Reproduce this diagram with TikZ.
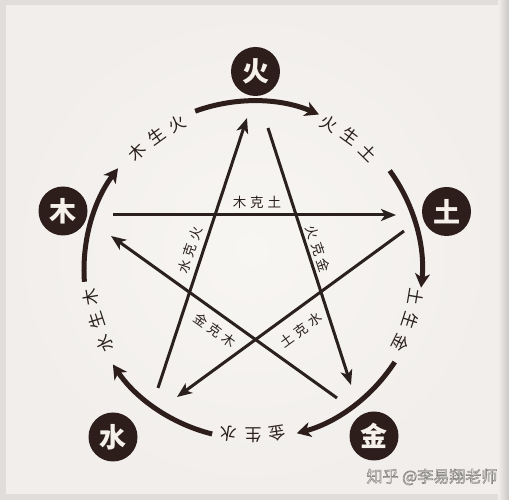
\documentclass[tikz,border=0pt]{standalone}
\usepackage{fontspec}
\newfontfamily\cjk{Noto Sans CJK SC}
\usetikzlibrary{arrows.meta}
\definecolor{dk}{HTML}{2D1E1C}
\definecolor{ln}{HTML}{2A201E}
\definecolor{cream}{HTML}{F5F0EA}
\definecolor{bgin}{HTML}{F8F6F3}
\definecolor{bgmid}{HTML}{F1EEEB}
\definecolor{bgout}{HTML}{E0DDDA}
\begin{document}
\begin{tikzpicture}[x=1pt,y=1pt,
  wx/.style={circle, fill=dk, minimum size=49pt, inner sep=0pt, text=cream,
    font=\cjk\bfseries\fontsize{27}{27}\selectfont},
  cyc/.style={line width=5pt, draw=dk, -{Stealth[length=14pt,width=15pt,inset=4pt]}},
  ke/.style={line width=3pt, draw=ln, -{Stealth[length=15pt,width=12pt,inset=4pt]}},
  kelab/.style={font=\cjk\fontsize{13.5}{13.5}\selectfont, text=ln, inner sep=0pt},
  shlab/.style={font=\cjk\fontsize{17}{17}\selectfont, text=ln, inner sep=0pt},
  wm/.style={font=\cjk\fontsize{16}{16}\selectfont, inner sep=0pt}]
\useasboundingbox (0,0) rectangle (509,500);
\fill[bgout] (0,0) rectangle (509,500);
\shade[inner color=bgin, outer color=bgmid] (6,6) rectangle (498,494);
\shade[left color=bgmid, right color=bgout!90!black] (498,0) rectangle (509,500);

\coordinate (O) at (253,230);

% element circles
\node[wx] (fire)  at (255.5,428.5) {火};
\node[wx] (wood)  at (63,289) {木};
\node[wx] (earth) at (446.5,288.5) {土};
\node[wx] (water) at (113,63) {水};
\node[wx] (metal) at (374,64) {金};

% generating cycle arcs
\draw[cyc] ([shift={(110:169)}]O) arc[start angle=110, end angle=67, radius=169];
\draw[cyc] ([shift={(36:169)}]O) arc[start angle=36, end angle=-6, radius=169];
\draw[cyc] ([shift={(327:169)}]O) arc[start angle=327, end angle=285, radius=169];
\draw[cyc] ([shift={(256:169)}]O) arc[start angle=256, end angle=214, radius=169];
\draw[cyc] ([shift={(184:169)}]O) arc[start angle=184, end angle=143, radius=169];

% generating labels along the circle
\foreach \a/\c/\d/\e in {126/木/生/火, 54/火/生/土, 342/土/生/金, 270/金/生/水, 198/水/生/木}{
  \node[shlab, rotate=\a+8.5-90] (la\a) at ([shift={(\a+8.5:165)}]O) {\c};
  \node[shlab, rotate=\a-90] (lb\a) at ([shift={(\a:165)}]O) {\d};
  \node[shlab, rotate=\a-8.5-90] (lc\a) at ([shift={(\a-8.5:165)}]O) {\e};
}

% controlling star
\coordinate (s1) at (113,285); \coordinate (e1) at (396,285);
\coordinate (s2) at (268,372); \coordinate (e2) at (351,115);
\coordinate (s3) at (158,112); \coordinate (e3) at (247,382);
\coordinate (s4) at (337,102); \coordinate (e4) at (111,264);
\coordinate (s5) at (404,269); \coordinate (e5) at (177,103);
\draw[ke] (s1) -- (e1);
\draw[ke] (s2) -- (e2);
\draw[ke] (s3) -- (e3);
\draw[ke] (s4) -- (e4);
\draw[ke] (s5) -- (e5);

\node[kelab] (k1) at (257,298) {木\hspace{4pt}克\hspace{4pt}土};
\node[kelab, rotate=-72.3] (k2) at (318,251) {火\hspace{4pt}克\hspace{4pt}金};
\node[kelab, rotate=71.8] (k3) at (190,250) {水\hspace{4pt}克\hspace{4pt}火};
\node[kelab, rotate=-35.6] (k4) at (215,170) {金\hspace{4pt}克\hspace{4pt}木};
\node[kelab, rotate=36] (k5) at (301,170) {土\hspace{4pt}克\hspace{4pt}水};

% watermark (white text, grey outline)
\node[wm, text=white] (wmark) at (432,23)
  {\special{pdf:literal direct 2 Tr 0.6 w 0.55 0.54 0.53 RG}知乎 @李易翔老师\special{pdf:literal direct 0 Tr}};
\end{tikzpicture}
\end{document}
